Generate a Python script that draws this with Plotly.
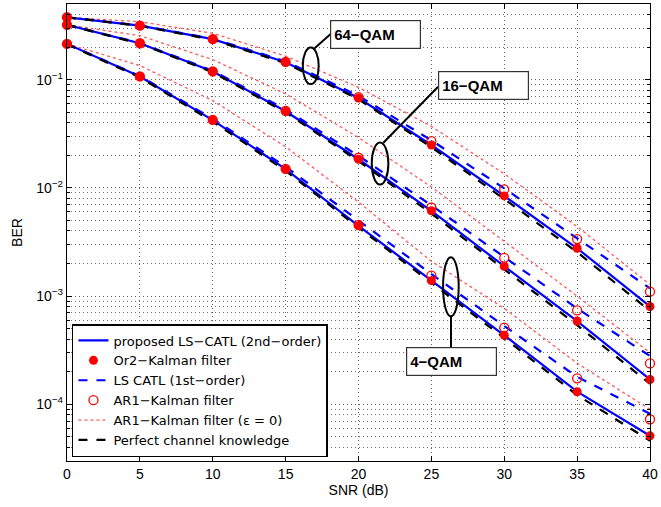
import plotly.graph_objects as go

# ---------------- data ----------------
snr = [0, 5, 10, 15, 20, 25, 30, 35, 40]

# proposed LS-CATL (2nd-order)  (blue solid)
prop_4 = [0.214, 0.107, 0.0423, 0.0149, 0.00447, 0.00139, 0.000435, 0.000131, 0.0000512]
prop_16 = [0.321, 0.217, 0.119, 0.0511, 0.0184, 0.00614, 0.00189, 0.000589, 0.000170]
prop_64 = [0.377, 0.316, 0.237, 0.145, 0.0677, 0.0249, 0.00843, 0.00277, 0.000803]

# Or2-Kalman filter (red filled circles)
or2_4 = [0.214, 0.107, 0.0423, 0.0149, 0.00447, 0.00139, 0.000435, 0.000131, 0.0000512]
or2_16 = [0.321, 0.217, 0.119, 0.0511, 0.0184, 0.00614, 0.00189, 0.000589, 0.000170]
or2_64 = [0.377, 0.316, 0.237, 0.145, 0.0677, 0.0249, 0.00843, 0.00277, 0.000803]

# LS CATL (1st-order)  (blue dashed)
ls1_4 = [0.214, 0.108, 0.0435, 0.0157, 0.0050, 0.00160, 0.00053, 0.000180, 0.000082]
ls1_16 = [0.321, 0.218, 0.121, 0.0530, 0.0198, 0.0069, 0.00230, 0.000770, 0.000280]
ls1_64 = [0.377, 0.317, 0.239, 0.148, 0.0710, 0.0275, 0.0099, 0.00340, 0.00118]

# AR1-Kalman filter (red open circles)
ar1_4 = [0.214, 0.107, 0.0425, 0.0150, 0.00455, 0.00155, 0.000512, 0.000174, 0.0000729]
ar1_16 = [0.321, 0.217, 0.119, 0.0515, 0.0190, 0.00659, 0.00226, 0.000738, 0.000239]
ar1_64 = [0.377, 0.316, 0.237, 0.146, 0.0690, 0.0270, 0.0097, 0.00337, 0.00110]

# AR1-Kalman filter (eps = 0)  (red dotted)
ar0_4 = [0.214, 0.135, 0.064, 0.024, 0.0074, 0.0021, 0.00077, 0.00024, 0.000090]
ar0_16 = [0.321, 0.255, 0.153, 0.074, 0.0292, 0.0102, 0.00321, 0.00100, 0.000300]
ar0_64 = [0.377, 0.343, 0.268, 0.165, 0.085, 0.037, 0.0135, 0.0044, 0.00128]

# Perfect channel knowledge (black dashed)
pck_4 = [0.212, 0.105, 0.0410, 0.0144, 0.0043, 0.00132, 0.00041, 0.000122, 0.0000462]
pck_16 = [0.321, 0.215, 0.117, 0.0498, 0.0177, 0.0058, 0.00177, 0.00054, 0.000155]
pck_64 = [0.377, 0.314, 0.234, 0.142, 0.066, 0.0238, 0.0079, 0.00255, 0.00073]

x_ticks = [0, 5, 10, 15, 20, 25, 30, 35, 40]
y_ticks = [1e-4, 1e-3, 1e-2, 1e-1]
y_ticktext = ["10<sup>−4</sup>", "10<sup>−3</sup>", "10<sup>−2</sup>", "10<sup>−1</sup>"]

FONT = "Liberation Sans, Arial, sans-serif"
LEGEND_FONT = "DejaVu Sans, Liberation Sans, sans-serif"

fig = go.Figure()


def add_group(name, series, rank, line=None, marker=None, mode="lines"):
    for i, ys in enumerate(series):
        kw = dict(x=snr, y=ys, mode=mode, name=name, legendgroup=name,
                  showlegend=(i == 0), legendrank=rank, hoverinfo="skip")
        if line is not None:
            kw["line"] = line
        if marker is not None:
            kw["marker"] = marker
            kw["cliponaxis"] = False
        fig.add_trace(go.Scatter(**kw))


# drawing order (bottom to top)
add_group("AR1−Kalman filter (ε = 0)", [ar0_4, ar0_16, ar0_64], 5,
          line=dict(color="#ff5a5a", width=1.3, dash="dot"))
add_group("LS CATL (1st−order)", [ls1_4, ls1_16, ls1_64], 3,
          line=dict(color="#0000ff", width=2.2, dash="dash"))
add_group("proposed LS−CATL (2nd−order)", [prop_4, prop_16, prop_64], 1,
          line=dict(color="#0000ff", width=2.2))
add_group("Perfect channel knowledge", [pck_4, pck_16, pck_64], 6,
          line=dict(color="black", width=2.2, dash="dash"))
add_group("AR1−Kalman filter", [ar1_4, ar1_16, ar1_64], 4, mode="markers",
          marker=dict(symbol="circle-open", size=9, color="#ff0000", line=dict(width=1.3, color="#ff0000")))
add_group("Or2−Kalman filter", [or2_4, or2_16, or2_64], 2, mode="markers",
          marker=dict(symbol="circle", size=9, color="#ff0000", line=dict(width=0)))

# plot area geometry (pixels) used to place annotation boxes / ellipses in paper coords
L, R, T, B = 67, 653, 3, 461
W, H = R - L, B - T


def px(xp):
    return (xp - L) / W


def py(yp):
    return (B - yp) / H


shapes = []
# ellipses grouping curves
for (x0, x1, y0, y1) in [(304, 320, 46.7, 83.3), (373.3, 390, 141.7, 184), (445, 460.7, 256.7, 316)]:
    shapes.append(dict(type="circle", xref="paper", yref="paper",
                       x0=px(x0), x1=px(x1), y0=py(y1), y1=py(y0),
                       line=dict(color="black", width=2)))
# connector lines
for (xa, ya, xb, yb) in [(315, 48, 332, 33), (385, 142, 440, 86), (453, 316, 453, 347)]:
    shapes.append(dict(type="line", xref="paper", yref="paper",
                       x0=px(xa), y0=py(ya), x1=px(xb), y1=py(yb),
                       line=dict(color="black", width=2)))

annotations = []
for text, cx, cy in [("64−QAM", 377, 34), ("16−QAM", 485.5, 84.7), ("4−QAM", 453, 361)]:
    annotations.append(dict(
        text="<b>" + text + "</b>", xref="paper", yref="paper",
        x=px(cx), y=py(cy), xanchor="center", yanchor="middle", showarrow=False,
        font=dict(family=FONT, size=15, color="black"),
        bgcolor="white", bordercolor="#333333", borderwidth=1.2, borderpad=3,
        width=83, height=21, align="left"))

minor_y = [m * 10 ** k for k in range(-5, 0) for m in range(2, 10) if 3e-5 <= m * 10 ** k <= 0.5]

GRID_DASH = "1px,3px"

fig.update_layout(
    width=661, height=507,
    margin=dict(l=L, r=661 - R, t=T, b=507 - B),
    paper_bgcolor="white", plot_bgcolor="white",
    font=dict(family=FONT, size=14, color="black"),
    showlegend=True,
    legend=dict(x=(72 - L) / W, y=(B - 457) / H, xanchor="left", yanchor="bottom",
                bgcolor="white", bordercolor="black", borderwidth=1.5,
                font=dict(family=LEGEND_FONT, size=13, color="black"),
                tracegroupgap=0, itemwidth=30),
    shapes=shapes, annotations=annotations,
)

fig.update_xaxes(
    range=[0, 40], tickvals=x_ticks, ticks="inside", ticklen=5, tickcolor="black",
    showline=True, linecolor="black", linewidth=1.3, mirror="ticks",
    showgrid=True, gridcolor="#606060", griddash=GRID_DASH, gridwidth=1, zeroline=False,
    title=dict(text="SNR (dB)", font=dict(family=FONT, size=14), standoff=4),
    tickfont=dict(family=FONT, size=14),
)
fig.update_yaxes(
    type="log", range=[-4.5229, -0.30103], tickvals=y_ticks, ticktext=y_ticktext,
    ticks="inside", ticklen=5, tickcolor="black",
    showline=True, linecolor="black", linewidth=1.3, mirror="ticks",
    showgrid=True, gridcolor="#606060", griddash=GRID_DASH, gridwidth=1, zeroline=False,
    minor=dict(tickvals=minor_y, ticks="inside", ticklen=3, tickcolor="black",
               showgrid=True, gridcolor="#707070", griddash=GRID_DASH, gridwidth=1),
    title=dict(text="BER", font=dict(family=FONT, size=14), standoff=10),
    tickfont=dict(family=FONT, size=14),
)

# remove the browser's default 8px page margin so the figure sits at the window origin
fig.write_html("out.html", config={"displayModeBar": False},
               post_script="document.body.style.margin='0px';")
